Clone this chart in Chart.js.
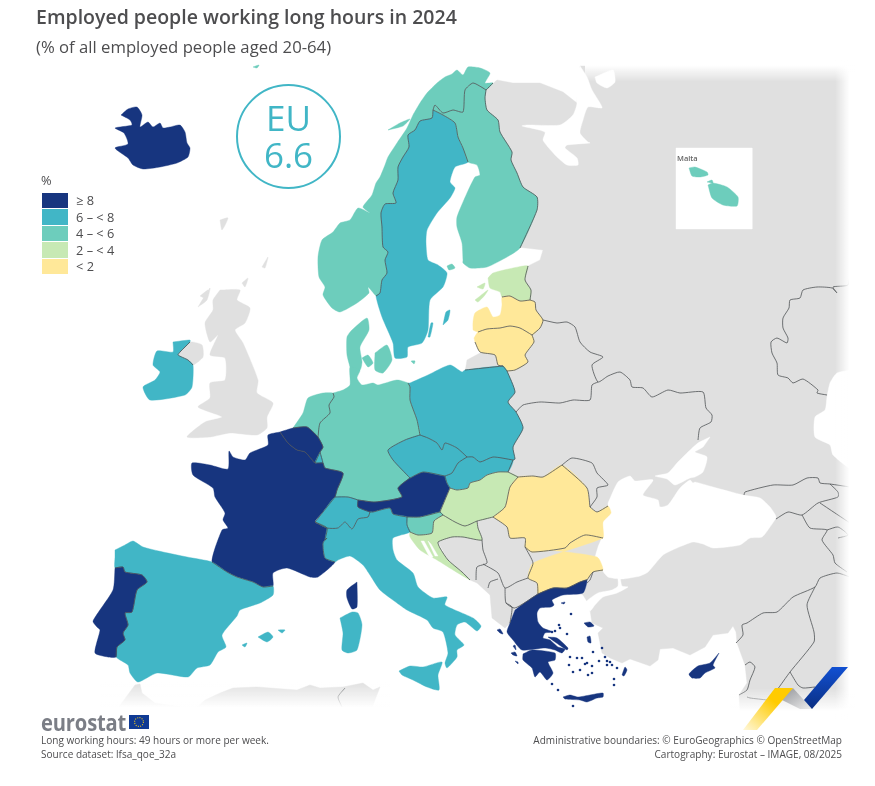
<!DOCTYPE html>
<html>
<head>
<meta charset="utf-8">
<title>Employed people working long hours in 2024</title>
<script src="https://cdn.jsdelivr.net/npm/chart.js@4"></script>
<style>
    html, body { margin: 0; padding: 0; background: #fff; }
    #page { position: relative; width: 875px; height: 786px; overflow: hidden; font-family: "Open Sans", sans-serif; color: #4d4d4f; }
    #mapChart { position: absolute; left: 0; top: 0; }
    .txt { position: absolute; white-space: nowrap; }
    .fade { position: absolute; pointer-events: none; }
    #title { left: 36px; top: 3px; font-size: 19.5px; font-weight: 600; }
    #subtitle { left: 36px; top: 35px; font-size: 16.7px; }
    #euBadge { position: absolute; left: 236px; top: 84px; width: 101px; height: 101px; border: 2px solid #41b6c6; border-radius: 50%; color: #41b6c6; text-align: center; font-size: 35px; line-height: 37px; font-weight: 400; }
    #euBadge div:first-child { margin-top: 13px; }
    #legendBox { position: absolute; left: 42px; top: 172px; font-size: 12.8px; }
    #legendBox .head { height: 20px; line-height: 16px; margin-left: -1px; }
    #legendBox .row { display: flex; align-items: center; height: 16.5px; }
    #legendBox .swatch { width: 26px; height: 15.5px; margin-right: 8px; }
    #maltaLabel { left: 677px; top: 153px; font-size: 7.5px; font-weight: 600; color: #666; }
    #logoText { left: 41px; top: 706px; font-size: 24px; font-weight: 700; color: #7b7e86; transform: scaleX(0.84); transform-origin: left top; letter-spacing: -0.2px; line-height: 32px; }
    .foot { font-size: 10.05px; line-height: 14px; color: #4d4d4f; }
    #noteLeft { left: 41px; top: 733px; }
    #noteRight { right: 33px; top: 733px; text-align: right; }
    svg { position: absolute; left: 0; top: 0; pointer-events: none; }
</style>
</head>
<body>
<div id="page">
    <canvas id="mapChart" width="875" height="786"></canvas>
    <div class="fade" style="left:835px;top:60px;width:17px;height:660px;background:linear-gradient(to right,rgba(255,255,255,0),#fff 85%)"></div>
    <div class="fade" style="left:585px;top:62px;width:270px;height:20px;background:linear-gradient(to bottom,#fff 15%,rgba(255,255,255,0))"></div>
    <div class="fade" style="left:100px;top:682px;width:290px;height:28px;background:linear-gradient(to bottom,rgba(255,255,255,0),#fff 92%)"></div>
    <div class="fade" style="left:730px;top:688px;width:125px;height:26px;background:linear-gradient(to bottom,rgba(255,255,255,0),#fff 90%)"></div>
    <div id="title" class="txt">Employed people working long hours in 2024</div>
    <div id="subtitle" class="txt">(% of all employed people aged 20-64)</div>
    <div id="euBadge"><div>EU</div><div>6.6</div></div>
    <div id="legendBox"></div>
    <div id="maltaLabel" class="txt">Malta</div>
    <div id="logoText" class="txt">eurostat</div>
    <svg width="875" height="786">
        <defs>
            <linearGradient id="gBlue" x1="0" y1="0" x2="0" y2="1"><stop offset="0" stop-color="#1150d2"/><stop offset="1" stop-color="#0b2f83"/></linearGradient>
            <linearGradient id="gGrey" x1="0" y1="0" x2="1" y2="1"><stop offset="0" stop-color="#8f9196"/><stop offset="1" stop-color="#eeeeee"/></linearGradient>
            <linearGradient id="gYellow" x1="1" y1="0" x2="0" y2="1"><stop offset="0.35" stop-color="#ffcb00"/><stop offset="1" stop-color="#fff8dc"/></linearGradient>
        </defs>
        <polygon points="793,688 780,699 800,709 812,709" fill="url(#gGrey)"/>
        <polygon points="775,688 793,688 757,730 743,730" fill="url(#gYellow)"/>
        <polygon points="832,667 848,667 812,709 804,700" fill="url(#gBlue)"/>
        <rect x="129" y="715" width="20" height="14" fill="#0f3a94"/>
        <circle cx="139" cy="722" r="4.4" fill="none" stroke="#f2c81e" stroke-width="1.1" stroke-dasharray="1 1.3"/>
    </svg>
    <div id="noteLeft" class="txt foot">Long working hours: 49 hours or more per week.<br>Source dataset: lfsa_qoe_32a</div>
    <div id="noteRight" class="txt foot">Administrative boundaries: © EuroGeographics © OpenStreetMap<br>Cartography: Eurostat – IMAGE, 08/2025</div>
</div>

<script>
// Legend classes, as printed on the map
const classLabels = ['≥ 8', '6 – < 8', '4 – < 6', '2 – < 4', '< 2'];
const classColors = ['#17357f', '#41b6c6', '#6dcdbc', '#c7e9b4', '#ffe899'];
const landColor = '#e0e0e0';
const lineColor = '#4f5355';

// Which class each country falls in (index into classLabels)
const classOf = {
    iceland: 0, france: 0, belgium: 0, portugal: 0, austria: 0, greece: 0, cyprus: 0,
    sweden: 1, ireland: 1, spain: 1, italy: 1, poland: 1, czechia: 1, slovakia: 1, switzerland: 1, luxembourg: 1,
    norway: 2, finland: 2, germany: 2, netherlands: 2, denmark: 2, slovenia: 2, malta: 2,
    estonia: 3, hungary: 3, croatia: 3,
    latvia: 4, lithuania: 4, romania: 4, bulgaria: 4
};

// Shared land borders, map units
const noSe = [[433,110],[432,118],[420,121],[415,130],[408,135],[409,147],[403,157],[398,167],[398,180],[393,193],[396,203],[385,204],[381,213],[382,227],[383,247],[388,252],[385,260],[387,273],[382,280],[380,293],[376,296]];
const seFi = [[433,110],[443,115],[455,123],[458,137],[463,148],[468,162]];
const noFi = [[433,110],[435,105],[443,113],[453,110],[463,112],[465,90],[473,83],[483,88],[486,90]];
const noRu = [[486,90],[493,83]];
const fiRu = [[486,90],[485,98],[487,110],[498,120],[500,132],[512,152],[511,160],[517,173],[523,187],[537,197],[537,210],[520,248]];
const eeRu = [[528,266],[525,280],[531,290],[530,300]];
const eeLv = [[502,297],[510,296],[520,301],[530,300]];
const lvRu = [[530,300],[535,302],[536,310],[543,320],[540,328],[532,335]];
const lvLt = [[478,332],[487,329],[500,328],[510,326],[520,328],[532,335]];
const ltBy = [[532,335],[534,342],[525,355],[528,362],[515,370],[507,371]];
const ltRu = [[475,342],[480,352],[495,355],[498,365],[503,366]];
const plLt = [[503,366],[507,371]];
const plRu = [[465,370],[503,366]];
const plUa = [[507,371],[515,392],[508,402],[516,412],[523,428],[513,447],[515,459],[513,460]];
const plSk = [[467,457],[473,457],[480,462],[493,457],[513,460]];
const plCz = [[420,435],[428,438],[437,443],[442,450],[445,443],[457,448],[467,457]];
const dePl = [[408,383],[410,387],[410,400],[417,420],[420,435]];
const deCz = [[420,435],[405,440],[388,450],[393,460],[410,478]];
const deAt = [[410,478],[398,488],[402,497],[375,502],[358,500]];
const deCh = [[358,500],[348,497],[335,497]];
const deFr = [[335,497],[337,490],[343,473],[325,468],[323,463]];
const deLu = [[323,463],[320,452]];
const deBe = [[320,452],[323,447],[318,437]];
const deNl = [[318,437],[320,423],[330,413],[329,405],[334,397],[333,393]];
const beNl = [[318,437],[307,427],[293,428]];
const beFr = [[280,432],[288,443],[297,450],[305,452],[315,463]];
const beLu = [[315,463],[320,452]];
const luFr = [[315,463],[323,463]];
const chFr = [[335,497],[323,512],[315,522]];
const chIt = [[315,522],[327,528],[338,528],[345,522],[352,529],[358,519],[362,518],[368,517],[370,512]];
const chAt = [[358,500],[358,507],[370,512]];
const itAt = [[370,512],[373,512],[390,508],[393,514],[407,517]];
const itSi = [[407,517],[407,525],[410,532]];
const atCz = [[410,478],[423,472],[445,476]];
const atSk = [[445,476],[447,483],[450,488]];
const czSk = [[467,457],[458,463],[452,473],[445,476]];
const skHu = [[450,488],[457,490],[468,488],[470,483],[480,480],[487,475],[498,472],[508,472]];
const skUa = [[513,460],[508,472]];
const huUa = [[508,472],[518,477]];
const atHu = [[450,488],[442,507],[440,512]];
const atSi = [[407,517],[420,517],[440,512]];
const siHu = [[440,512],[443,515]];
const siHr = [[443,515],[434,521],[432,533],[418,535],[410,532]];
const huRo = [[518,477],[510,487],[505,507],[493,517]];
const huRs = [[493,517],[477,521]];
const huHr = [[477,521],[465,526],[455,522],[443,515]];
const hrBa = [[477,521],[478,528],[482,540],[463,537],[452,537],[438,542],[440,548],[448,560],[462,572],[470,580]];
const roUa = [[518,477],[533,476],[543,477],[562,465]];
const roMd = [[562,465],[587,488],[590,507]];
const roUaSouth = [[590,507],[597,512],[608,506]];
const roBg = [[603,538],[585,535],[570,543],[565,548],[532,552],[525,547]];
const roRs = [[525,547],[525,538],[510,538],[507,527],[493,517]];
const bgGr = [[538,594],[553,588],[567,588],[580,582],[587,580]];
const bgTr = [[587,580],[593,572],[603,570]];
const bgWest = [[525,547],[533,563],[528,578],[537,583],[538,594]];
const ptEs = [[115,568],[123,567],[125,572],[142,575],[147,582],[137,590],[132,612],[125,613],[128,625],[123,633],[125,640],[117,647],[116,657]];
const esFr = [[212,562],[227,572],[237,577],[253,582],[263,587],[273,586]];
const itFr = [[315,522],[327,528],[325,540],[327,538],[323,543],[325,558],[335,562]];
const ieGb = [[180,352],[190,342]];
const ieGbSouth = [[180,352],[178,355],[188,360],[193,365]];

// Countries drawn in colour
const iceland = [[[121,115],[128,109],[137,107],[142,115],[140,127],[148,122],[153,127],[160,123],[163,128],[170,127],[180,125],[185,132],[187,143],[190,148],[188,157],[177,163],[160,167],[143,169],[133,165],[128,158],[115,148],[128,144],[124,133],[115,128],[132,125],[130,120]]];
const norway = [
    [[376,296],[368,287],[369,293],[357,303],[340,312],[332,308],[323,295],[325,287],[319,277],[318,257],[322,240],[333,232],[340,223],[350,220],[358,208],[370,213],[363,207],[372,195],[376,183],[380,177],[385,165],[388,157],[397,143],[407,128],[413,115],[420,103],[427,93],[437,83],[445,77],[452,74],[457,70],[463,75],[468,67],[480,68],[490,73],[485,83],[493,83],[486,90],[483,88],[473,83],[465,90],[463,112],[453,110],[443,113],[435,105],[433,110],...noSe.slice(1)],
    [[388,130],[400,123],[410,119],[403,126]],
    [[253,67],[259,65],[257,68]]
];
const sweden = [
    [...noSe,[382,317],[393,343],[395,358],[407,357],[408,347],[422,343],[428,330],[430,300],[443,287],[447,273],[438,265],[428,260],[426,243],[427,230],[437,213],[450,198],[455,188],[450,182],[455,167],[468,162],[463,148],[458,137],[455,123],[443,115]],
    [[443,325],[446,312],[450,310],[448,320]],
    [[428,337],[431,323],[433,323],[430,337]]
];
const finland = [
    [...noFi,...fiRu.slice(1),[507,257],[487,267],[470,268],[463,263],[463,260],[462,243],[457,227],[457,217],[467,193],[475,177],[480,175],[477,165],[468,162],[463,148],[458,137],[455,123],[443,115]],
    [[447,266],[452,264],[455,268],[449,270]]
];
const denmark = [
    [[350,367],[347,355],[347,337],[352,330],[367,318],[369,330],[360,347],[362,362],[360,370]],
    [[362,358],[368,355],[373,363],[368,367]],
    [[375,353],[387,345],[392,360],[383,373],[375,370]],
    [[411,361],[415,361],[414,364]]
];
const estonia = [
    [[488,278],[493,273],[513,268],[528,266],[525,280],[531,290],[530,300],[520,301],[510,296],[502,297],[500,292],[490,288]],
    [[475,300],[488,290],[485,295],[478,302]],
    [[477,287],[485,283],[483,289]]
];
const latvia = [[[473,330],[473,322],[475,313],[487,307],[493,317],[500,315],[502,305],[502,297],...eeLv.slice(1),...lvRu.slice(1),[520,328],[510,326],[500,328],[487,329],[478,332]]];
const lithuania = [[[474,338],...lvLt,...ltBy.slice(1),[503,366],[498,365],[495,355],[480,352],[475,342]]];
const poland = [[[410,383],[428,375],[450,365],[462,372],[465,370],...plRu.slice(1),...plUa,...rv(plSk).slice(1),...rv(plCz).slice(1),...rv(dePl).slice(1)]];
const germany = [[[333,393],[343,390],[350,385],[350,367],[360,370],[357,378],[362,385],[373,383],[378,385],[397,380],...dePl,...deCz.slice(1),...deAt.slice(1),...deCh.slice(1),...deFr.slice(1),...deLu.slice(1),...deBe.slice(1),...deNl.slice(1)]];
const netherlands = [[[293,428],[303,413],[308,398],[323,393],[333,393],...rv(deNl).slice(1),...beNl.slice(1)]];
const belgium = [[[280,432],[293,428],...rv(beNl).slice(1),...deBe.slice(0).reverse().slice(1),...beLu.slice(0).reverse().slice(1),...rv(beFr).slice(1)]];
const luxembourg = [[[320,452],[323,463],[315,463]]];
const france = [
    [[280,432],[268,435],[268,445],[250,453],[245,460],[233,457],[229,451],[228,469],[210,465],[192,463],[193,475],[213,488],[215,497],[225,513],[223,520],[228,528],[222,530],[212,562],...esFr.slice(1),[273,573],[287,568],[310,577],[318,577],[335,562],[325,558],[323,543],[327,538],[325,540],[327,528],[315,522],[323,512],[335,497],[337,490],[343,473],[325,468],[323,463],[315,463],[305,452],[297,450],[288,443]],
    [[357,582],[357,607],[352,609],[347,598],[347,590]]
];
const switzerland = [[...chFr.slice(0).reverse(),...deCh.slice(0).reverse().slice(1),...chAt.slice(1),[368,517],[362,518],[358,519],[352,529],[345,522],[338,528],[327,528]]];
const austria = [[...rv(deAt),...atCz.slice(1),...atSk.slice(1),...atHu.slice(1),...rv(atSi).slice(1),...rv(itAt).slice(1),...rv(chAt).slice(1)]];
const czechia = [[...rv(deCz),...plCz.slice(1),...czSk.slice(1),...rv(atCz).slice(1)]];
const slovakia = [[...plSk,...skUa.slice(1),...rv(skHu).slice(1),...rv(atSk).slice(1),...rv(czSk).slice(1)]];
const hungary = [[...skHu,...huUa.slice(0),...huRo.slice(1),...huRs.slice(1),...huHr.slice(1),...rv(siHu).slice(1),...rv(atHu).slice(1)]];
const slovenia = [[...atSi,...siHu.slice(1),...siHr.slice(1),[407,525]]];
const croatia = [[...huHr.slice(0).reverse(),...hrBa,[453,570],[437,560],[420,550],[410,537],[410,532],[418,535],[432,533],[434,521]]];
const romania = [[...rv(huRo),...roUa.slice(1),...roMd.slice(1),...roUaSouth.slice(1),[611,513],[603,522],...roBg,...roRs.slice(1)]];
const bulgaria = [[...rv(roBg),...bgWest.slice(1),...bgGr.slice(1),...bgTr.slice(1),[597,557]]];
const spain = [
    [[115,550],[125,545],[133,541],[143,547],[163,552],[187,557],...esFr,[273,595],[260,603],[240,610],[237,616],[222,635],[226,647],[218,652],[210,665],[197,668],[188,677],[157,673],[138,682],[130,673],[128,665],...rv(ptEs).slice(0),[115,557]],
    [[258,637],[268,632],[273,637],[267,642]],
    [[278,630],[285,630],[282,633]],
    [[242,645],[247,643],[245,647]]
];
const portugal = [[...ptEs,[108,657],[95,653],[100,630],[97,627],[93,621],[113,590]]];
const ireland = [[[173,342],[190,340],[190,342],...ieGb.slice(0).reverse().slice(1),...ieGbSouth.slice(1),[192,387],[185,395],[150,400],[143,387],[155,380],[160,372],[153,365],[157,351],[173,352]]];
const italy = [
    [...chIt.slice(1),...itAt.slice(1),...itSi.slice(1),[393,538],[393,550],[397,560],[413,573],[418,587],[433,598],[447,597],[445,605],[473,618],[481,626],[477,631],[465,622],[457,625],[455,635],[464,645],[457,650],[457,657],[447,668],[445,663],[448,653],[443,632],[433,628],[427,620],[407,610],[397,603],[380,590],[370,575],[363,565],[350,556],[338,560],[335,562],[325,558],[323,543],[327,538],[325,540]],
    [[340,618],[352,612],[358,613],[362,625],[357,650],[348,653],[342,650],[343,633]],
    [[399,671],[410,666],[423,667],[442,662],[438,675],[439,690],[427,687],[413,680],[402,675]]
];
const greece = [
    [[515,610],[523,604],[538,594],...bgGr.slice(1),[583,593],[563,595],[552,600],[554,605],[551,607],[540,608],[537,613],[538,622],[543,628],[553,632],[545,633],[543,638],[550,640],[558,647],[565,649],[562,653],[555,650],[545,648],[522,650],[513,640],[507,632],[510,623]],
    [[523,654],[532,650],[555,653],[555,660],[548,662],[553,673],[547,680],[540,672],[535,677],[532,668],[523,660]],
    [[548,637],[557,638],[568,648],[567,650],[555,642]],
    [[563,697],[570,695],[578,697],[590,695],[603,693],[603,697],[597,698],[587,702],[580,700],[565,699]],
    [[584,623],[590,622],[594,626],[588,627]],
    [[587,637],[590,636],[591,643],[588,642]],
    [[622,675],[625,667],[627,670],[624,676]],
    [[561,603],[565,602],[564,604]],
    [[497,630],[500,629],[503,634],[500,633]],
    [[511,653],[515,652],[517,656],[513,655]],
    [[515,661],[518,662],[518,664]],
    [[513,646],[515,645],[516,650]]
];
const greekIslets = [[593,652],[602,648],[605,657],[610,662],[607,665],[617,668],[592,666],[585,664],[580,670],[570,657],[577,658],[582,658],[587,663],[573,672],[569,665],[588,675],[592,673],[599,661],[607,661],[612,665],[614,679],[614,685],[558,690],[552,684],[573,706],[571,614],[567,634],[560,628],[555,631],[552,632],[559,625]];
const cyprus = [[[719,653],[713,665],[715,668],[705,673],[700,678],[692,678],[689,674],[698,666],[710,663]]];
const malta = [
    [[689,168],[695,167],[707,172],[708,175],[700,177],[692,176]],
    [[708,185],[713,183],[727,187],[738,197],[737,206],[723,205],[712,198]],
    [[707,182],[712,180],[713,183]]
];

// Grey land outside the map's coverage
const mainland = [[497,80],[513,83],[540,83],[563,92],[577,103],[580,66],[850,66],[850,712],[740,712],[739,695],[747,683],[745,665],[737,643],[736,632],[733,626],[728,633],[713,635],[705,647],[690,655],[673,648],[660,649],[658,660],[650,666],[630,659],[622,663],[610,658],[602,653],[598,633],[603,628],[592,623],[590,610],[588,603],[583,595],[575,590],[540,600],[515,608],[510,623],[505,628],[492,618],[490,595],[477,583],[470,580],[462,572],[448,560],[438,542],[440,525],[440,500],[470,450],[480,400],[465,372],[467,360],[480,353],[495,350],[505,300],[525,275],[528,266],[540,260],[543,250],[517,247],[500,200],[490,130],[480,95]];
const greatBritain = [
    [[220,290],[240,290],[237,300],[250,308],[245,323],[235,330],[243,343],[258,380],[257,393],[273,403],[267,417],[267,428],[257,435],[230,433],[210,437],[187,437],[205,422],[222,417],[198,407],[210,398],[210,383],[225,380],[225,358],[210,355],[218,335],[210,342],[205,323],[213,310],[213,300]],
    [[180,352],[190,342],[202,345],[203,357],[193,365],[188,360],[178,355]],
    [[198,307],[210,288],[207,300]],
    [[200,296],[208,290],[205,298]],
    [[262,267],[268,257],[265,268]],
    [[220,220],[228,218],[222,230]],
    [[242,283],[248,278],[245,287]]
];
const northAfrica = [[118,708],[135,685],[140,684],[142,693],[155,703],[183,707],[197,707],[205,700],[220,693],[233,688],[257,687],[297,690],[310,685],[320,688],[343,687],[363,683],[373,690],[380,687],[372,708]];

// Water and inset cut out of the grey land
const whiteSea = [[580,66],[587,77],[592,90],[600,103],[602,108],[588,107],[583,120],[580,133],[588,142],[590,143],[567,145],[565,148],[577,158],[578,165],[567,165],[557,157],[548,147],[543,140],[545,132],[522,126],[527,125],[560,125],[573,115],[577,103],[575,80]];
const whiteBay = [[595,77],[613,70],[615,82],[607,88],[597,83]];
const blackSea = [[608,503],[618,482],[630,476],[635,481],[653,480],[643,495],[658,500],[660,507],[668,505],[680,488],[690,480],[693,483],[695,482],[713,487],[743,495],[760,498],[770,507],[776,517],[770,527],[762,537],[750,538],[740,545],[713,548],[703,544],[693,542],[677,548],[663,555],[648,572],[640,576],[622,579],[608,577],[602,570],[595,560],[598,547],[602,537],[603,522],[608,515]];
const azovSea = [[710,437],[698,443],[687,453],[677,463],[668,473],[655,476],[667,479],[675,485],[690,478],[695,477],[703,472],[707,457],[695,452],[703,447]];
const caspian = [[852,370],[837,373],[830,383],[827,397],[825,410],[815,417],[815,437],[830,445],[833,455],[852,468]];
const marmara = [[620,576],[622,586],[628,587],[617,593],[603,597],[595,605],[590,611],[585,603],[598,593],[612,590],[618,586],[618,576]];
const maltaInset = [[676,148],[752,148],[752,229],[676,229]];
const adriaticIslands = [[[421,541],[424,541],[433,557],[430,558]],[[428,541],[431,544],[438,556],[435,556]]];

// Borders outside the coloured area
const greyBorders = [
    [[543,320],[557,323],[567,322],[575,327],[580,342],[590,352],[603,357],[592,365],[598,382],[608,376],[620,372],[630,380],[632,387],[643,388],[652,397],[668,390],[680,393],[703,392],[706,408],[712,415],[711,422],[700,428],[698,440]],
    [[598,382],[592,385],[590,400],[573,400],[560,403],[540,402],[523,405],[516,412]],
    [[562,465],[572,458],[592,463],[597,473],[608,485],[597,488],[597,497],[590,507]],
    [[482,540],[483,550],[487,563],[477,567],[476,580]],
    [[483,564],[498,573],[505,588],[517,582],[528,578]],
    [[505,588],[506,603],[515,608],[538,594]],
    [[488,588],[490,582],[498,579]],
    [[506,603],[512,607],[510,623]],
    [[593,572],[590,580],[587,583]],
    [[850,272],[848,285],[833,287],[837,293],[832,288],[817,287],[803,290],[800,298],[790,300],[789,308],[783,318],[783,328],[788,338],[787,343],[777,338],[771,342],[772,353],[777,363],[778,375],[788,378],[793,383],[803,379],[818,390],[817,393],[827,395]],
    [[744,495],[745,492],[773,485],[793,485],[807,478],[818,478],[820,483],[830,484],[850,487]],
    [[776,519],[788,512],[802,515],[818,503],[838,497],[838,492],[830,484]],
    [[820,503],[838,515],[850,523]],
    [[802,515],[810,528],[827,530],[822,540],[833,555],[835,563],[847,572]],
    [[827,530],[838,527],[848,535],[838,538]],
    [[850,577],[837,573],[820,578],[815,587],[793,597],[777,612],[763,613],[747,623],[742,625],[743,635],[736,643]],
    [[815,587],[807,605],[814,632],[814,642],[790,672],[777,690],[770,698]],
    [[790,672],[798,685],[803,688],[815,687]],
    [[745,665],[750,662],[755,667],[750,680],[747,690],[739,695]],
    [[747,697],[750,698],[767,700]],
    [[345,688],[338,697],[342,707]]
];

const colouredBorders = [noSe, seFi, noFi, noRu, fiRu, eeRu, eeLv, lvRu, lvLt, ltBy, ltRu, plLt, plRu, plUa, plSk, plCz, dePl, deCz, deAt, deCh, deFr, deLu, deBe, deNl, beNl, beFr, beLu, luFr, chFr, chIt, chAt, itAt, itSi, atCz, atSk, czSk, skHu, skUa, huUa, atHu, atSi, siHu, siHr, huRo, huRs, huHr, hrBa, roUa, roMd, roUaSouth, roBg, roRs, bgGr, bgTr, bgWest, ptEs, esFr, itFr, ieGb, ieGbSouth];

// Reverse a copy of a border so it can run the other way round a country
function rv(path) {
    return path.slice().reverse();
}

function toPoints(path) {
    return path.map(function(p) { return { x: p[0], y: p[1] }; });
}

// One filled scatter line per polygon
function areaDataset(path, color, tension) {
    return {
        data: toPoints(path.concat([path[0]])),
        showLine: true,
        fill: 'shape',
        backgroundColor: color,
        borderColor: color,
        borderWidth: 0.4,
        pointRadius: 0,
        tension: tension
    };
}

function borderDataset(path) {
    return {
        data: toPoints(path),
        showLine: true,
        fill: false,
        borderColor: lineColor,
        borderWidth: 0.8,
        pointRadius: 0,
        tension: 0.2
    };
}

function buildDatasets() {
    const sets = [];
    // Straight edges here, a curve would bulge past the fade at the map's corners
    sets.push(areaDataset(mainland, landColor, 0));
    greatBritain.forEach(function(p) { sets.push(areaDataset(p, landColor, 0.2)); });
    sets.push(areaDataset(northAfrica, landColor, 0));
    [whiteSea, whiteBay, blackSea, azovSea, caspian, marmara].forEach(function(p) {
        sets.push(areaDataset(p, '#ffffff', 0.2));
    });
    sets.push(areaDataset(maltaInset, '#ffffff', 0));

    const shapes = {
        iceland, norway, sweden, finland, denmark, estonia, latvia, lithuania, poland, germany, netherlands,
        belgium, luxembourg, france, switzerland, austria, czechia, slovakia, hungary, slovenia, croatia,
        romania, bulgaria, spain, portugal, ireland, italy, greece, cyprus, malta
    };
    Object.keys(shapes).forEach(function(name) {
        shapes[name].forEach(function(p) {
            sets.push(areaDataset(p, classColors[classOf[name]], 0.2));
        });
    });
    adriaticIslands.forEach(function(p) { sets.push(areaDataset(p, '#ffffff', 0)); });

    sets.push({
        data: toPoints(greekIslets),
        showLine: false,
        pointRadius: 1.3,
        pointBackgroundColor: classColors[classOf.greece],
        pointBorderWidth: 0
    });

    greyBorders.forEach(function(p) { sets.push(borderDataset(p)); });
    colouredBorders.forEach(function(p) { sets.push(borderDataset(p)); });

    // Chart.js paints the first dataset last
    return sets.reverse();
}

function buildLegend() {
    const box = document.getElementById('legendBox');
    let html = '<div class="head">%</div>';
    classLabels.forEach(function(label, i) {
        html += '<div class="row"><span class="swatch" style="background:' + classColors[i] + '"></span>' +
            label.replace('<', '&lt;') + '</div>';
    });
    box.innerHTML = html;
}

buildLegend();

new Chart(document.getElementById('mapChart').getContext('2d'), {
    type: 'scatter',
    data: { datasets: buildDatasets() },
    options: {
        responsive: false,
        animation: false,
        devicePixelRatio: 1,
        layout: { padding: 0, autoPadding: false },
        scales: {
            x: { type: 'linear', min: 0, max: 875, display: false },
            y: { type: 'linear', min: 0, max: 786, reverse: true, display: false }
        },
        plugins: {
            legend: { display: false },
            tooltip: { enabled: false },
            title: { display: false }
        }
    }
});
</script>
</body>
</html>
